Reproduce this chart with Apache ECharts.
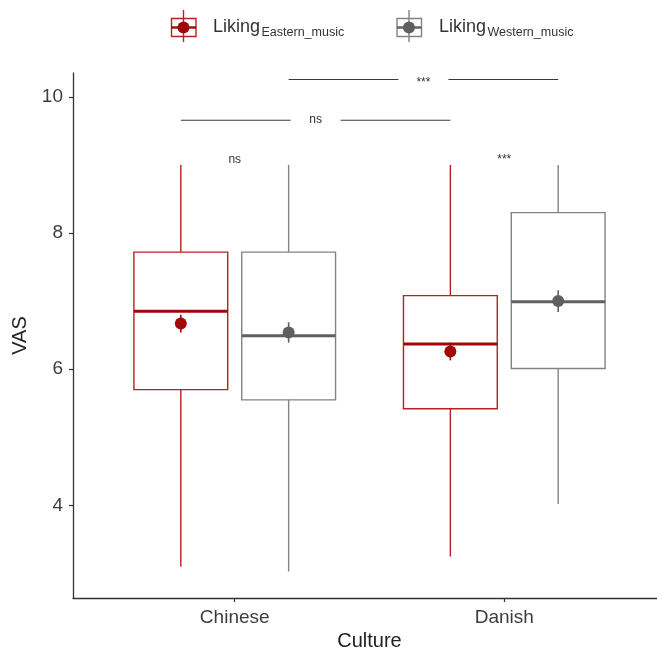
<!DOCTYPE html>
<html>
<head>
<meta charset="utf-8">
<script src="https://cdn.jsdelivr.net/npm/echarts@6/dist/echarts.min.js"></script>
<style>
  html, body { margin: 0; padding: 0; background: #ffffff; }
  #chart { width: 657px; height: 653px; }
</style>
</head>
<body>
<div id="chart"></div>
<script>
// Categories and axis ticks
const cultures = ['Chinese', 'Danish'];
const yTicks = [4, 6, 8, 10];

// Liking of Eastern music (VAS), per culture
const eastMin = [3.10, 3.25];
const eastQ1 = [5.70, 5.42];
const eastMedian = [6.85, 6.37];
const eastQ3 = [7.72, 7.08];
const eastMax = [9.0, 9.0];
const eastMean = [6.67, 6.26];
const eastSE = [0.13, 0.13];

// Liking of Western music (VAS), per culture
const westMin = [3.03, 4.02];
const westQ1 = [5.55, 6.01];
const westMedian = [6.49, 6.99];
const westQ3 = [7.72, 8.30];
const westMax = [9.0, 9.0];
const westMean = [6.54, 7.00];
const westSE = [0.15, 0.16];

// Between-culture comparisons (one per music type)
const betweenOffset = [-0.2, 0.2];
const betweenY = [9.656, 10.254];
const betweenLabel = ['ns', '***'];

// Within-culture comparisons (Eastern vs Western)
const withinY = [9.07, 9.07];
const withinLabel = ['ns', '***'];

const DODGE = 0.2;
const BOX_W = 0.348;
const FONT = '"Liberation Sans", Arial, Helvetica, sans-serif';

const EAST = { line: '#b82020', dark: '#a20808' };
const WEST = { line: '#838383', dark: '#5f5f5f' };

function rows(mn, q1, md, q3, mx, mean, se) {
  return cultures.map((c, i) => [i + 1, mn[i], q1[i], md[i], q3[i], mx[i], mean[i], se[i]]);
}

function boxRenderer(offset, col) {
  return function (params, api) {
    const x = api.value(0) + offset;
    const half = api.size([BOX_W, 0])[0] / 2;
    const pMin = api.coord([x, api.value(1)]);
    const pQ1 = api.coord([x, api.value(2)]);
    const pMed = api.coord([x, api.value(3)]);
    const pQ3 = api.coord([x, api.value(4)]);
    const pMax = api.coord([x, api.value(5)]);
    const mean = api.value(6), se = api.value(7);
    const pMean = api.coord([x, mean]);
    const pLo = api.coord([x, mean - se]);
    const pHi = api.coord([x, mean + se]);
    const cx = pMed[0];
    const thin = { stroke: col.line, lineWidth: 1.4, fill: null };
    return {
      type: 'group',
      children: [
        { type: 'line', shape: { x1: cx, y1: pQ3[1], x2: cx, y2: pMax[1] }, style: thin },
        { type: 'line', shape: { x1: cx, y1: pMin[1], x2: cx, y2: pQ1[1] }, style: thin },
        { type: 'rect', shape: { x: cx - half, y: pQ3[1], width: 2 * half, height: pQ1[1] - pQ3[1] },
          style: { stroke: col.line, lineWidth: 1.4, fill: '#ffffff' } },
        { type: 'line', shape: { x1: cx - half, y1: pMed[1], x2: cx + half, y2: pMed[1] },
          style: { stroke: col.dark, lineWidth: 3 } },
        { type: 'line', shape: { x1: cx, y1: pLo[1], x2: cx, y2: pHi[1] },
          style: { stroke: col.dark, lineWidth: 1.6 } },
        { type: 'circle', shape: { cx: cx, cy: pMean[1], r: 6 }, style: { fill: col.dark } }
      ]
    };
  };
}

function bracketRenderer(params, api) {
  const i = params.dataIndex;
  const y = api.value(2);
  const p1 = api.coord([api.value(0), y]);
  const p2 = api.coord([api.value(1), y]);
  const mid = (p1[0] + p2[0]) / 2;
  const gap = 25;
  const label = betweenLabel[i];
  const style = { stroke: '#3a3a3a', lineWidth: 1.1 };
  return {
    type: 'group',
    children: [
      { type: 'line', shape: { x1: p1[0], y1: p1[1], x2: mid - gap, y2: p1[1] }, style: style },
      { type: 'line', shape: { x1: mid + gap, y1: p1[1], x2: p2[0], y2: p1[1] }, style: style },
      { type: 'text', x: mid, y: p1[1] + (label.indexOf('*') >= 0 ? 3 : -1),
        style: { text: label, fill: '#333333', font: '12px ' + FONT, align: 'center', verticalAlign: 'middle' } }
    ]
  };
}

function withinRenderer(params, api) {
  const p = api.coord([api.value(0), api.value(1)]);
  return {
    type: 'text', x: p[0], y: p[1],
    style: { text: withinLabel[params.dataIndex], fill: '#333333', font: '12px ' + FONT,
             align: 'center', verticalAlign: 'middle' }
  };
}

function legendItem(cx, textX, col, sub) {
  return {
    type: 'group',
    children: [
      { type: 'rect', shape: { x: cx - 12, y: 18.5, width: 24.5, height: 18 },
        style: { stroke: col.line, lineWidth: 1.4, fill: '#ffffff' } },
      { type: 'line', shape: { x1: cx, y1: 10, x2: cx, y2: 42 }, style: { stroke: col.line, lineWidth: 1.4 } },
      { type: 'line', shape: { x1: cx - 12, y1: 27.5, x2: cx + 12.5, y2: 27.5 }, style: { stroke: col.dark, lineWidth: 2.4 } },
      { type: 'circle', shape: { cx: cx, cy: 27.5, r: 6 }, style: { fill: col.dark } },
      { type: 'text', x: textX, y: 27,
        style: { text: 'Liking', fill: '#333333', font: '18px ' + FONT, verticalAlign: 'middle' } },
      { type: 'text', x: textX + 48.5, y: 33,
        style: { text: sub, fill: '#333333', font: '12.5px ' + FONT, verticalAlign: 'middle' } }
    ]
  };
}

const chart = echarts.init(document.getElementById('chart'), null, { renderer: 'canvas' });

chart.setOption({
  animation: false,
  backgroundColor: '#ffffff',
  grid: { left: 73, right: -9, top: 73, bottom: 55, containLabel: false, outerBoundsMode: 'none' },
  xAxis: {
    type: 'value',
    min: 0.4,
    max: 2.6,
    name: 'Culture',
    nameLocation: 'middle',
    nameGap: 33,
    nameTextStyle: { fontFamily: FONT, fontSize: 20, color: '#222222' },
    axisLine: { show: true, lineStyle: { color: '#333333', width: 1.3 } },
    axisTick: { show: true, length: 4, customValues: [1, 2], lineStyle: { color: '#333333', width: 1.2 } },
    axisLabel: {
      customValues: [1, 2],
      margin: 10,
      fontFamily: FONT, fontSize: 19, color: '#3d3d3d',
      formatter: v => cultures[Math.round(v) - 1] || ''
    },
    splitLine: { show: false }
  },
  yAxis: {
    type: 'value',
    min: 2.64,
    max: 10.35,
    name: 'VAS',
    nameLocation: 'middle',
    nameGap: 37,
    nameRotate: 90,
    nameTextStyle: { fontFamily: FONT, fontSize: 20, color: '#222222' },
    axisLine: { show: true, lineStyle: { color: '#333333', width: 1.3 } },
    axisTick: { show: true, length: 4, customValues: yTicks, lineStyle: { color: '#333333', width: 1.2 } },
    axisLabel: { customValues: yTicks, margin: 10, fontFamily: FONT, fontSize: 19, color: '#3d3d3d' },
    splitLine: { show: false }
  },
  graphic: [
    legendItem(183.5, 213, EAST, 'Eastern_music'),
    legendItem(409, 439, WEST, 'Western_music')
  ],
  series: [
    {
      name: 'Liking Eastern_music',
      type: 'custom',
      renderItem: boxRenderer(-DODGE, EAST),
      encode: { x: 0, y: [1, 2, 3, 4, 5] },
      data: rows(eastMin, eastQ1, eastMedian, eastQ3, eastMax, eastMean, eastSE),
      z: 2
    },
    {
      name: 'Liking Western_music',
      type: 'custom',
      renderItem: boxRenderer(DODGE, WEST),
      encode: { x: 0, y: [1, 2, 3, 4, 5] },
      data: rows(westMin, westQ1, westMedian, westQ3, westMax, westMean, westSE),
      z: 2
    },
    {
      type: 'custom',
      renderItem: bracketRenderer,
      encode: { x: [0, 1], y: 2 },
      data: betweenY.map((y, i) => [1 + betweenOffset[i], 2 + betweenOffset[i], y]),
      z: 3
    },
    {
      type: 'custom',
      renderItem: withinRenderer,
      encode: { x: 0, y: 1 },
      data: withinY.map((y, i) => [i + 1, y]),
      z: 3
    }
  ]
});
</script>
</body>
</html>
